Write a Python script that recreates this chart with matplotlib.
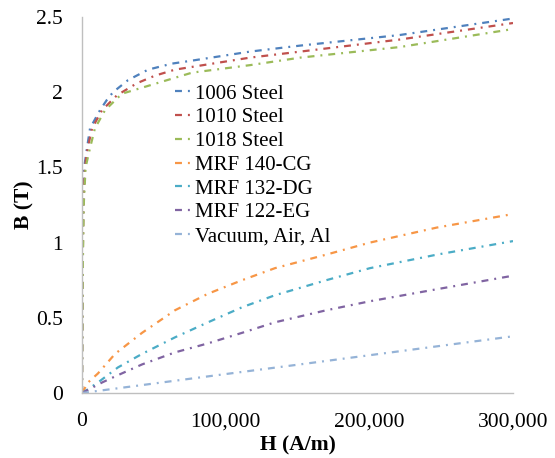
import matplotlib.pyplot as plt
from matplotlib.ticker import FuncFormatter

plt.rcParams['font.family'] = ['Liberation Serif', 'DejaVu Serif']
plt.rcParams['lines.scale_dashes'] = False

# B-H curves (H in A/m, B in T)
h_1006 = [0, 300, 800, 1500, 3500, 5600, 12500, 17400, 21600, 32000, 46000,
          62600, 76600, 117000, 152000, 221000, 300000]
b_1006 = [0, 0.8, 1.25, 1.5, 1.63, 1.76, 1.88, 1.95, 2.0, 2.08, 2.15,
          2.19, 2.21, 2.27, 2.31, 2.38, 2.49]

h_1010 = [0, 400, 1000, 2000, 4000, 7000, 13900, 24400, 38300, 50800, 64700,
          117000, 152000, 221000, 300000]
b_1010 = [0, 0.8, 1.25, 1.5, 1.63, 1.76, 1.88, 1.98, 2.06, 2.11, 2.15,
          2.23, 2.27, 2.35, 2.46]

h_1018 = [0, 500, 1200, 2500, 5600, 9000, 16000, 27800, 41800, 55700, 76600,
          117000, 152000, 221000, 300000]
b_1018 = [0, 0.8, 1.25, 1.5, 1.63, 1.76, 1.88, 1.99, 2.03, 2.07, 2.13,
          2.18, 2.23, 2.30, 2.42]

h_140 = [0, 4200, 11100, 23000, 41800, 64700, 87700, 111400, 134300, 170000, 200400, 247000, 300000]
b_140 = [0, 0.07, 0.13, 0.26, 0.40, 0.55, 0.66, 0.75, 0.83, 0.92, 1.00, 1.10, 1.19]

h_132 = [0, 5000, 12500, 25000, 41800, 64700, 87700, 111400, 134300, 170000, 200400, 247000, 300000]
b_132 = [0, 0.03, 0.08, 0.17, 0.26, 0.37, 0.47, 0.57, 0.65, 0.75, 0.83, 0.92, 1.01]

h_122 = [0, 6000, 14000, 23000, 41800, 64700, 87700, 111400, 134300, 170000, 200400, 247000, 300000]
b_122 = [0, 0.03, 0.07, 0.11, 0.19, 0.27, 0.33, 0.40, 0.47, 0.55, 0.61, 0.69, 0.78]

h_vac = [0, 50000, 100000, 150000, 200000, 250000, 300000]
b_vac = [0, 0.063, 0.126, 0.188, 0.251, 0.314, 0.377]

series = [
    ("1006 Steel", h_1006, b_1006, "#4F81BD"),
    ("1010 Steel", h_1010, b_1010, "#C0504D"),
    ("1018 Steel", h_1018, b_1018, "#9BBB59"),
    ("MRF 140-CG", h_140, b_140, "#F79646"),
    ("MRF 132-DG", h_132, b_132, "#4BACC6"),
    ("MRF 122-EG", h_122, b_122, "#8064A2"),
    ("Vacuum, Air, Al", h_vac, b_vac, "#95B3D7"),
]

fig = plt.figure(figsize=(5.55, 4.58), dpi=100)
ax = fig.add_axes([82 / 555, 1 - 393 / 458, 431 / 555, 376 / 458])

for name, h, b, c in series:
    ax.plot(h, b, color=c, lw=1.6, dashes=(5, 4.3, 1.4, 4.3), label=name)

ax.set_xlim(0, 300000)
ax.set_ylim(0, 2.5)
ax.set_xticks([0, 100000, 200000, 300000])
ax.set_yticks([0, 0.5, 1, 1.5, 2, 2.5])
ax.xaxis.set_major_formatter(FuncFormatter(lambda v, p: f"{int(v):,}"))
ax.yaxis.set_major_formatter(FuncFormatter(lambda v, p: f"{v:g}"))
ax.tick_params(length=0, labelsize=15.5)
ax.tick_params(axis='x', pad=14)
ax.tick_params(axis='y', pad=14)

for s in ['top', 'right']:
    ax.spines[s].set_visible(False)
for s in ['left', 'bottom']:
    ax.spines[s].set_color('#BFBFBF')
    ax.spines[s].set_linewidth(1)

ax.set_xlabel("H (A/m)", fontsize=15.5, fontweight='bold')
ax.set_ylabel("B (T)", fontsize=15.5, fontweight='bold')
ax.xaxis.set_label_coords(0.5, -0.112)
ax.yaxis.set_label_coords(-0.11, 0.5)

ax.legend(loc='upper left', bbox_to_anchor=(175 / 555, 1 - 84 / 458),
          bbox_transform=fig.transFigure, frameon=False, fontsize=15,
          handlelength=0.75, handletextpad=0.2, labelspacing=0.2,
          borderpad=0, borderaxespad=0)

fig.savefig("out.png", dpi=100)
